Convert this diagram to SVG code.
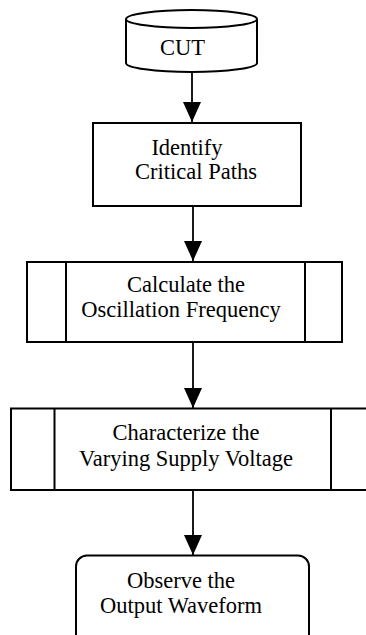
<svg xmlns="http://www.w3.org/2000/svg" width="366" height="635" viewBox="0 0 366 635">
  <style>
    .shape { fill: #ffffff; stroke: #000000; stroke-width: 2; }
    .line { fill: none; stroke: #000000; stroke-width: 2; }
    .wire { fill: none; stroke: #000000; stroke-width: 1.8; }
    text { font-family: "Liberation Serif", "Times New Roman", serif; font-size: 22.5px; fill: #000000; text-anchor: middle; }
  </style>
  <defs>
    <marker id="head" viewBox="0 0 20 18" refX="20" refY="9" markerWidth="20" markerHeight="18" markerUnits="userSpaceOnUse" orient="auto">
      <path d="M0,0 L20,9 L0,18 Z" fill="#000000"/>
    </marker>
  </defs>
  <rect width="366" height="635" fill="#ffffff"/>

  <!-- connectors -->
  <g id="connectors">
    <line class="wire" x1="192" y1="72" x2="192" y2="122" marker-end="url(#head)"/>
    <line class="wire" x1="193" y1="206" x2="193" y2="261" marker-end="url(#head)"/>
    <line class="wire" x1="193" y1="342" x2="193" y2="408" marker-end="url(#head)"/>
    <line class="wire" x1="193" y1="490" x2="193" y2="555" marker-end="url(#head)"/>
  </g>

  <!-- data store: CUT -->
  <g id="cut">
    <path class="shape" d="M126,19 L126,63 A65.5,9 0 0 0 257,63 L257,19 A65.5,9 0 0 0 126,19 Z"/>
    <path class="line" d="M126,19 A65.5,9 0 0 0 257,19"/>
    <text x="182.5" y="55">CUT</text>
  </g>

  <!-- process: Identify Critical Paths -->
  <g id="identify">
    <rect class="shape" x="93" y="123" width="208" height="83"/>
    <text x="187" y="155">Identify</text>
    <text x="196" y="179">Critical Paths</text>
  </g>

  <!-- predefined process: Calculate the Oscillation Frequency -->
  <g id="calculate">
    <rect class="shape" x="27" y="262" width="315" height="80"/>
    <line class="line" x1="66" y1="262" x2="66" y2="342"/>
    <line class="line" x1="305" y1="262" x2="305" y2="342"/>
    <text x="186" y="291.5">Calculate the</text>
    <text x="181" y="316.5">Oscillation Frequency</text>
  </g>

  <!-- predefined process: Characterize the Varying Supply Voltage -->
  <g id="characterize">
    <rect class="shape" x="11" y="408.5" width="370" height="81.5"/>
    <line class="line" x1="54.5" y1="408.5" x2="54.5" y2="490"/>
    <line class="line" x1="331" y1="408.5" x2="331" y2="490"/>
    <text x="186" y="440">Characterize the</text>
    <text x="186" y="466">Varying Supply Voltage</text>
  </g>

  <!-- terminal: Observe the Output Waveform -->
  <g id="observe">
    <rect class="shape" x="76" y="555.5" width="233" height="95" rx="11" ry="11"/>
    <text x="181" y="588">Observe the</text>
    <text x="181" y="613">Output Waveform</text>
  </g>
</svg>
